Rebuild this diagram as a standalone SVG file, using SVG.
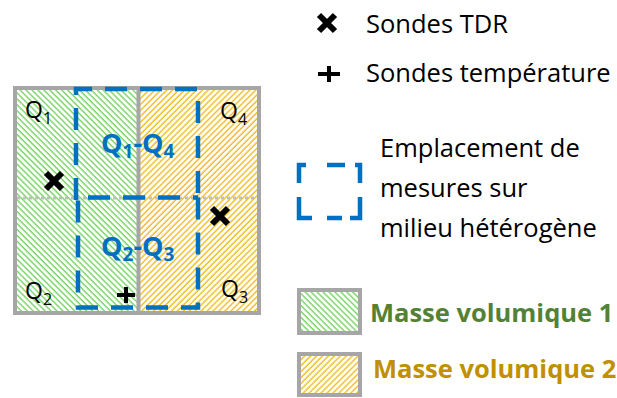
<svg xmlns="http://www.w3.org/2000/svg" width="617" height="398" viewBox="0 0 617 398">
  <style>
    .lbl { font-family: "Open Sans", "Liberation Sans", sans-serif; font-size: 25.5px; fill: #000; }
    .q { font-family: "Open Sans", "Liberation Sans", sans-serif; font-size: 23px; fill: #000; }
    .qb { font-family: "Open Sans", "Liberation Sans", sans-serif; font-size: 27px; font-weight: bold; fill: #0070c0; }
    .sub { font-size: 16px; }
    .subb { font-size: 19px; }
    .mv { font-family: "Open Sans", "Liberation Sans", sans-serif; font-size: 25.5px; font-weight: bold; }
    .border { fill: none; stroke: #a6a6a6; stroke-width: 4; }
    .zone { fill: none; stroke: #0070c0; stroke-width: 4.5; stroke-dasharray: 22 13; }
    .mark { stroke: #000; stroke-width: 6; stroke-linecap: butt; fill: none; }
    .plus { stroke: #000; stroke-width: 4; fill: none; }
  </style>
  <defs>
    <pattern id="hatchG" patternUnits="userSpaceOnUse" width="4.2" height="4.2" patternTransform="rotate(-45)">
      <rect width="4.2" height="4.2" fill="#fff"/>
      <line x1="1" y1="0" x2="1" y2="4.2" stroke="#74d460" stroke-width="1.4"/>
    </pattern>
    <pattern id="hatchO" patternUnits="userSpaceOnUse" width="4.2" height="4.2" patternTransform="rotate(45)">
      <rect width="4.2" height="4.2" fill="#fff"/>
      <line x1="1" y1="0" x2="1" y2="4.2" stroke="#f4bb1c" stroke-width="1.4"/>
    </pattern>
  </defs>

  <g id="grid">
    <rect x="17" y="90" width="120" height="221" fill="url(#hatchG)"/>
    <rect x="140" y="90" width="117" height="221" fill="url(#hatchO)"/>
    <line x1="17" y1="198" x2="257" y2="198" stroke="#bfbfbf" stroke-width="3" stroke-dasharray="3 3"/>
    <line x1="138.5" y1="88" x2="138.5" y2="313" stroke="#a6a6a6" stroke-width="4"/>
    <rect class="border" x="15" y="88" width="244" height="225"/>
  </g>

  <g id="zone-q1q4">
    <path class="zone" d="M76,200 V89 H198 V197.5"/>
  </g>
  <g id="zone-q2q3">
    <path class="zone" d="M198,197.5 V307.5 H78 V197.5 H198"/>
  </g>

  <g id="labels-q">
    <text class="q" x="25" y="118">Q<tspan class="sub" dy="6">1</tspan></text>
    <text class="q" x="220" y="119">Q<tspan class="sub" dy="6">4</tspan></text>
    <text class="q" x="25" y="299">Q<tspan class="sub" dy="6">2</tspan></text>
    <text class="q" x="221" y="297">Q<tspan class="sub" dy="6">3</tspan></text>
    <text class="qb" x="101" y="153">Q<tspan class="subb" dy="5">1</tspan><tspan dy="-5">-Q</tspan><tspan class="subb" dy="5">4</tspan></text>
    <text class="qb" x="101" y="256">Q<tspan class="subb" dy="5">2</tspan><tspan dy="-5">-Q</tspan><tspan class="subb" dy="5">3</tspan></text>
  </g>

  <g id="probes">
    <path class="mark" d="M46,173 L62,189 M62,173 L46,189"/>
    <path class="mark" d="M212,208 L228,224 M228,208 L212,224"/>
    <path class="plus" d="M117,295 H135 M126,287 V303"/>
  </g>

  <g id="legend-tdr">
    <path class="mark" d="M319,15 L335,31 M335,15 L319,31"/>
    <text class="lbl" x="366" y="33">Sondes TDR</text>
  </g>
  <g id="legend-temp">
    <path class="plus" d="M318,74 H340 M329,66 V82"/>
    <text class="lbl" x="366" y="82">Sondes température</text>
  </g>
  <g id="legend-zone">
    <path d="M299,183 V165 H306 M327,165 H345 M355,165 H360 V183 M360,197 V218 H350 M342,218 H327 M312,218 H299 V197" fill="none" stroke="#0070c0" stroke-width="4.5"/>
    <text class="lbl" x="380" y="157">Emplacement de</text>
    <text class="lbl" x="380" y="197">mesures sur</text>
    <text class="lbl" x="380" y="237">milieu hétérogène</text>
  </g>
  <g id="legend-mv1">
    <rect x="299" y="290" width="61" height="43" fill="url(#hatchG)" stroke="#a6a6a6" stroke-width="4"/>
    <text class="mv" x="370" y="322" fill="#538135">Masse volumique 1</text>
  </g>
  <g id="legend-mv2">
    <rect x="299" y="354" width="61" height="41" fill="url(#hatchO)" stroke="#a6a6a6" stroke-width="4"/>
    <text class="mv" x="373" y="378" fill="#bf9000">Masse volumique 2</text>
  </g>
</svg>
